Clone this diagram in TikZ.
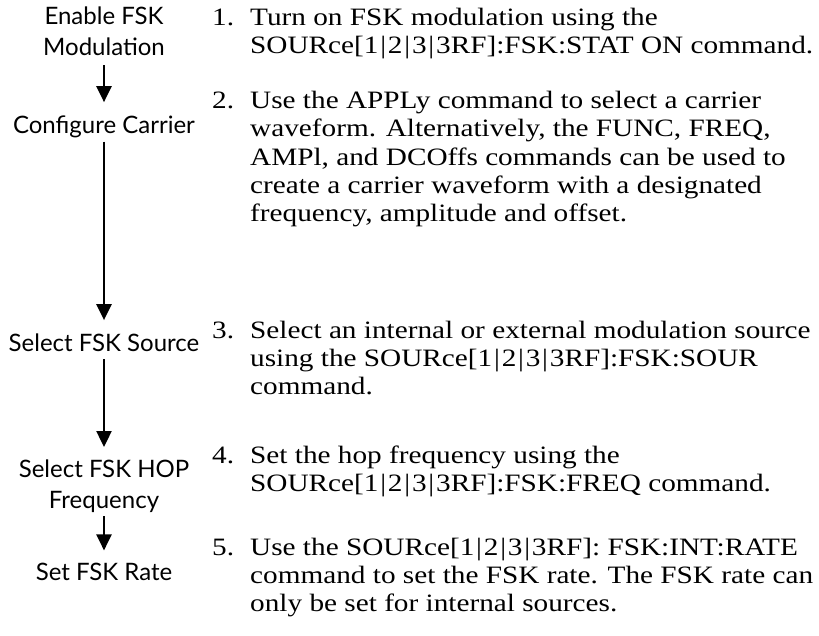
\documentclass[tikz,border=0pt]{standalone}
\usepackage{fontspec}
\setmainfont{Liberation Serif}[FakeStretch=1.17]
\newfontfamily\lsans{Lato}
\usetikzlibrary{arrows.meta}
\newcommand{\pipesep}{\kern1.8pt|\kern1.8pt}
\newcommand{\srcx}{SOURce[1\pipesep2\pipesep3\pipesep3RF]}
\begin{document}
\begin{tikzpicture}[x=1pt,y=-1pt,
  lbl/.style={font=\lsans\fontsize{24}{31}\selectfont, align=center, inner sep=0pt},
  txt/.style={anchor=base west, inner sep=0pt, font=\fontsize{25}{28}\selectfont},
  arr/.style={line width=2.4pt, -{Triangle[width=15pt,length=16pt]}}]
\fill[white] (0,0) rectangle (819,635);
\useasboundingbox (0,0) rectangle (819,635);
% left column
\node[lbl, anchor=north] (A) at (104,7) {Enable FSK\\Modulation};
\node[lbl, anchor=base] (B) at (104,133) {Configure Carrier};
\node[lbl, anchor=base] (C) at (104,351) {Select FSK Source};
\node[lbl, anchor=north] (D) at (104,460) {Select FSK HOP\\Frequency};
\node[lbl, anchor=base] (E) at (104,580) {Set FSK Rate};
\draw[arr, shorten <=9pt, shorten >=13pt] (A.south) -- (B.north);
\draw[arr, shorten <=4pt, shorten >=13pt] (B.south) -- (C.north);
\draw[arr, shorten <=8pt, shorten >=13pt] (C.south) -- (D.north);
\draw[arr, shorten <=3pt, shorten >=12pt] (D.south) -- (E.north);
% right column
\node[txt] (n1) at (212,25) {1.};
\node[txt] (t1a) at (250,25) {Turn on FSK modulation using the};
\node[txt] (t1b) at (250,53) {\srcx:FSK:STAT ON command.};
\node[txt] (n2) at (212,108) {2.};
\node[txt] (t2a) at (250,108) {Use the APPLy command to select a carrier};
\node[txt] (t2b) at (250,136) {waveform. Alternatively, the FUNC, FREQ,};
\node[txt] (t2c) at (250,165) {AMPl, and DCOffs commands can be used to};
\node[txt] (t2d) at (250,193) {create a carrier waveform with a designated};
\node[txt] (t2e) at (250,221) {frequency, amplitude and offset.};
\node[txt] (n3) at (212,338) {3.};
\node[txt] (t3a) at (250,338) {Select an internal or external modulation source};
\node[txt] (t3b) at (250,366) {using the \srcx:FSK:SOUR};
\node[txt] (t3c) at (250,394) {command.};
\node[txt] (n4) at (212,463) {4.};
\node[txt] (t4a) at (250,463) {Set the hop frequency using the};
\node[txt] (t4b) at (250,491) {\srcx:FSK:FREQ command.};
\node[txt] (n5) at (212,555) {5.};
\node[txt] (t5a) at (250,555) {Use the \srcx: FSK:INT:RATE};
\node[txt] (t5b) at (250,583) {command to set the FSK rate. The FSK rate can};
\node[txt] (t5c) at (250,611) {only be set for internal sources.};
\end{tikzpicture}
\end{document}
